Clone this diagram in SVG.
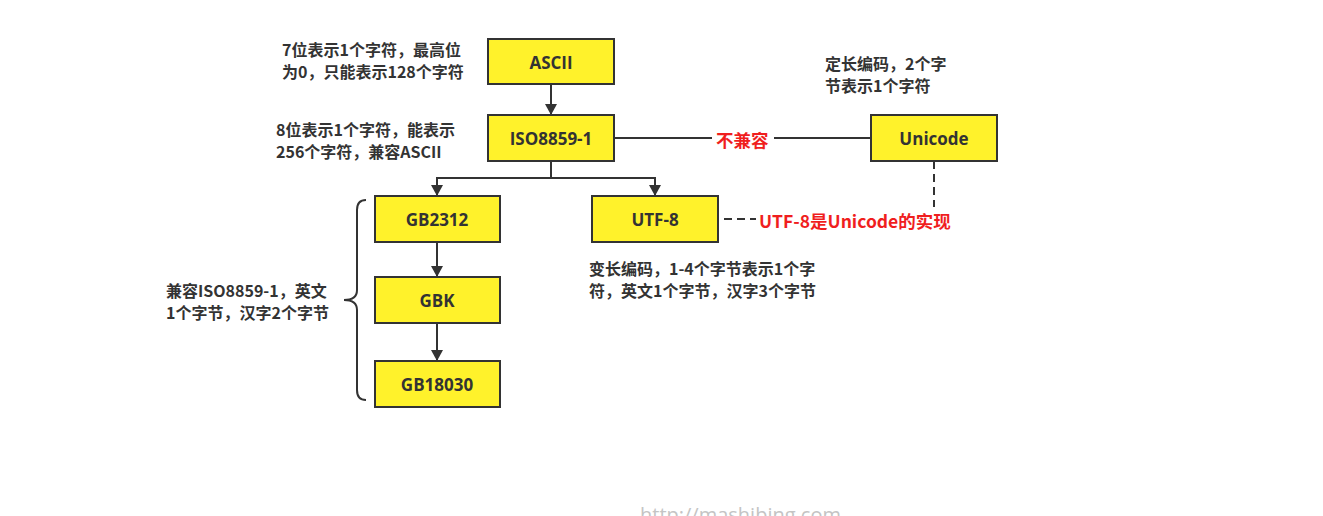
<svg xmlns="http://www.w3.org/2000/svg" width="1323" height="516" viewBox="0 0 1323 516">
<defs>
<marker id="arr" viewBox="0 0 11 12" refX="11" refY="6" markerWidth="11" markerHeight="12" markerUnits="userSpaceOnUse" orient="auto">
<path d="M0,0 L11,6 L0,12 Z" fill="#333"/>
</marker>
</defs>
<style>
.box{fill:#FFF22B;stroke:#333;stroke-width:2}
.lbl{font-family:"Open Sans","Noto Sans CJK SC",sans-serif;font-weight:bold;font-size:17px;fill:#333;text-anchor:middle;dominant-baseline:central}
.note{font-family:"Noto Sans CJK SC",sans-serif;font-weight:bold;font-size:16px;fill:#333}
.red{font-family:"Noto Sans CJK SC",sans-serif;font-weight:bold;font-size:17.5px;fill:#F01E1E;dominant-baseline:central}
.ln{fill:none;stroke:#333;stroke-width:2}
.dash{fill:none;stroke:#333;stroke-width:2;stroke-dasharray:8 5}
</style>
<rect width="1323" height="516" fill="#fff"/>
<g id="connectors">
<path class="ln" d="M551,84 V115" marker-end="url(#arr)"/>
<path class="ln" d="M551,161 V178 H437 V196" marker-end="url(#arr)"/>
<path class="ln" d="M551,178 H655 V196" marker-end="url(#arr)"/>
<path class="ln" d="M437,242 V277" marker-end="url(#arr)"/>
<path class="ln" d="M437,323 V361" marker-end="url(#arr)"/>
<path class="ln" d="M613,138 H871"/>
<rect x="712" y="126" width="62" height="24" fill="#fff"/>
<text class="red" x="716" y="139">不兼容</text>
<path class="dash" d="M934,161 V219 H719"/>
<rect x="756" y="207" width="200" height="26" fill="#fff"/>
<text class="red" x="759" y="220">UTF-8是Unicode的实现</text>
<path class="ln" d="M366,200 Q357,200 357,210 V290 Q357,300 344,300 Q357,300 357,310 V390 Q357,400 366,400"/>
</g>
<g id="ascii"><rect class="box" x="488" y="39" width="126" height="45"/><text class="lbl" x="551" y="62">ASCII</text></g>
<g id="iso"><rect class="box" x="488" y="115" width="126" height="46"/><text class="lbl" x="551" y="138">ISO8859-1</text></g>
<g id="unicode"><rect class="box" x="871" y="115" width="126" height="46"/><text class="lbl" x="934" y="138">Unicode</text></g>
<g id="gb2312"><rect class="box" x="375" y="196" width="125" height="46"/><text class="lbl" x="437" y="219">GB2312</text></g>
<g id="utf8"><rect class="box" x="592" y="196" width="126" height="46"/><text class="lbl" x="655" y="219">UTF-8</text></g>
<g id="gbk"><rect class="box" x="375" y="277" width="125" height="46"/><text class="lbl" x="437" y="300">GBK</text></g>
<g id="gb18030"><rect class="box" x="375" y="361" width="125" height="46"/><text class="lbl" x="437" y="384">GB18030</text></g>
<g id="notes">
<text class="note" x="282" y="56">7位表示1个字符，最高位</text>
<text class="note" x="282" y="78">为0，只能表示128个字符</text>
<text class="note" x="276" y="136">8位表示1个字符，能表示</text>
<text class="note" x="276" y="158">256个字符，兼容ASCII</text>
<text class="note" x="825" y="70">定长编码，2个字</text>
<text class="note" x="825" y="92">节表示1个字符</text>
<text class="note" x="166" y="297">兼容ISO8859-1，英文</text>
<text class="note" x="166" y="319">1个字节，汉字2个字节</text>
<text class="note" x="589" y="275">变长编码，1-4个字节表示1个字</text>
<text class="note" x="589" y="297">符，英文1个字节，汉字3个字节</text>
</g>
<text x="640" y="522" font-family="'Open Sans',sans-serif" font-size="20" fill="#c4c4c4">http://mashibing.com</text>
</svg>
